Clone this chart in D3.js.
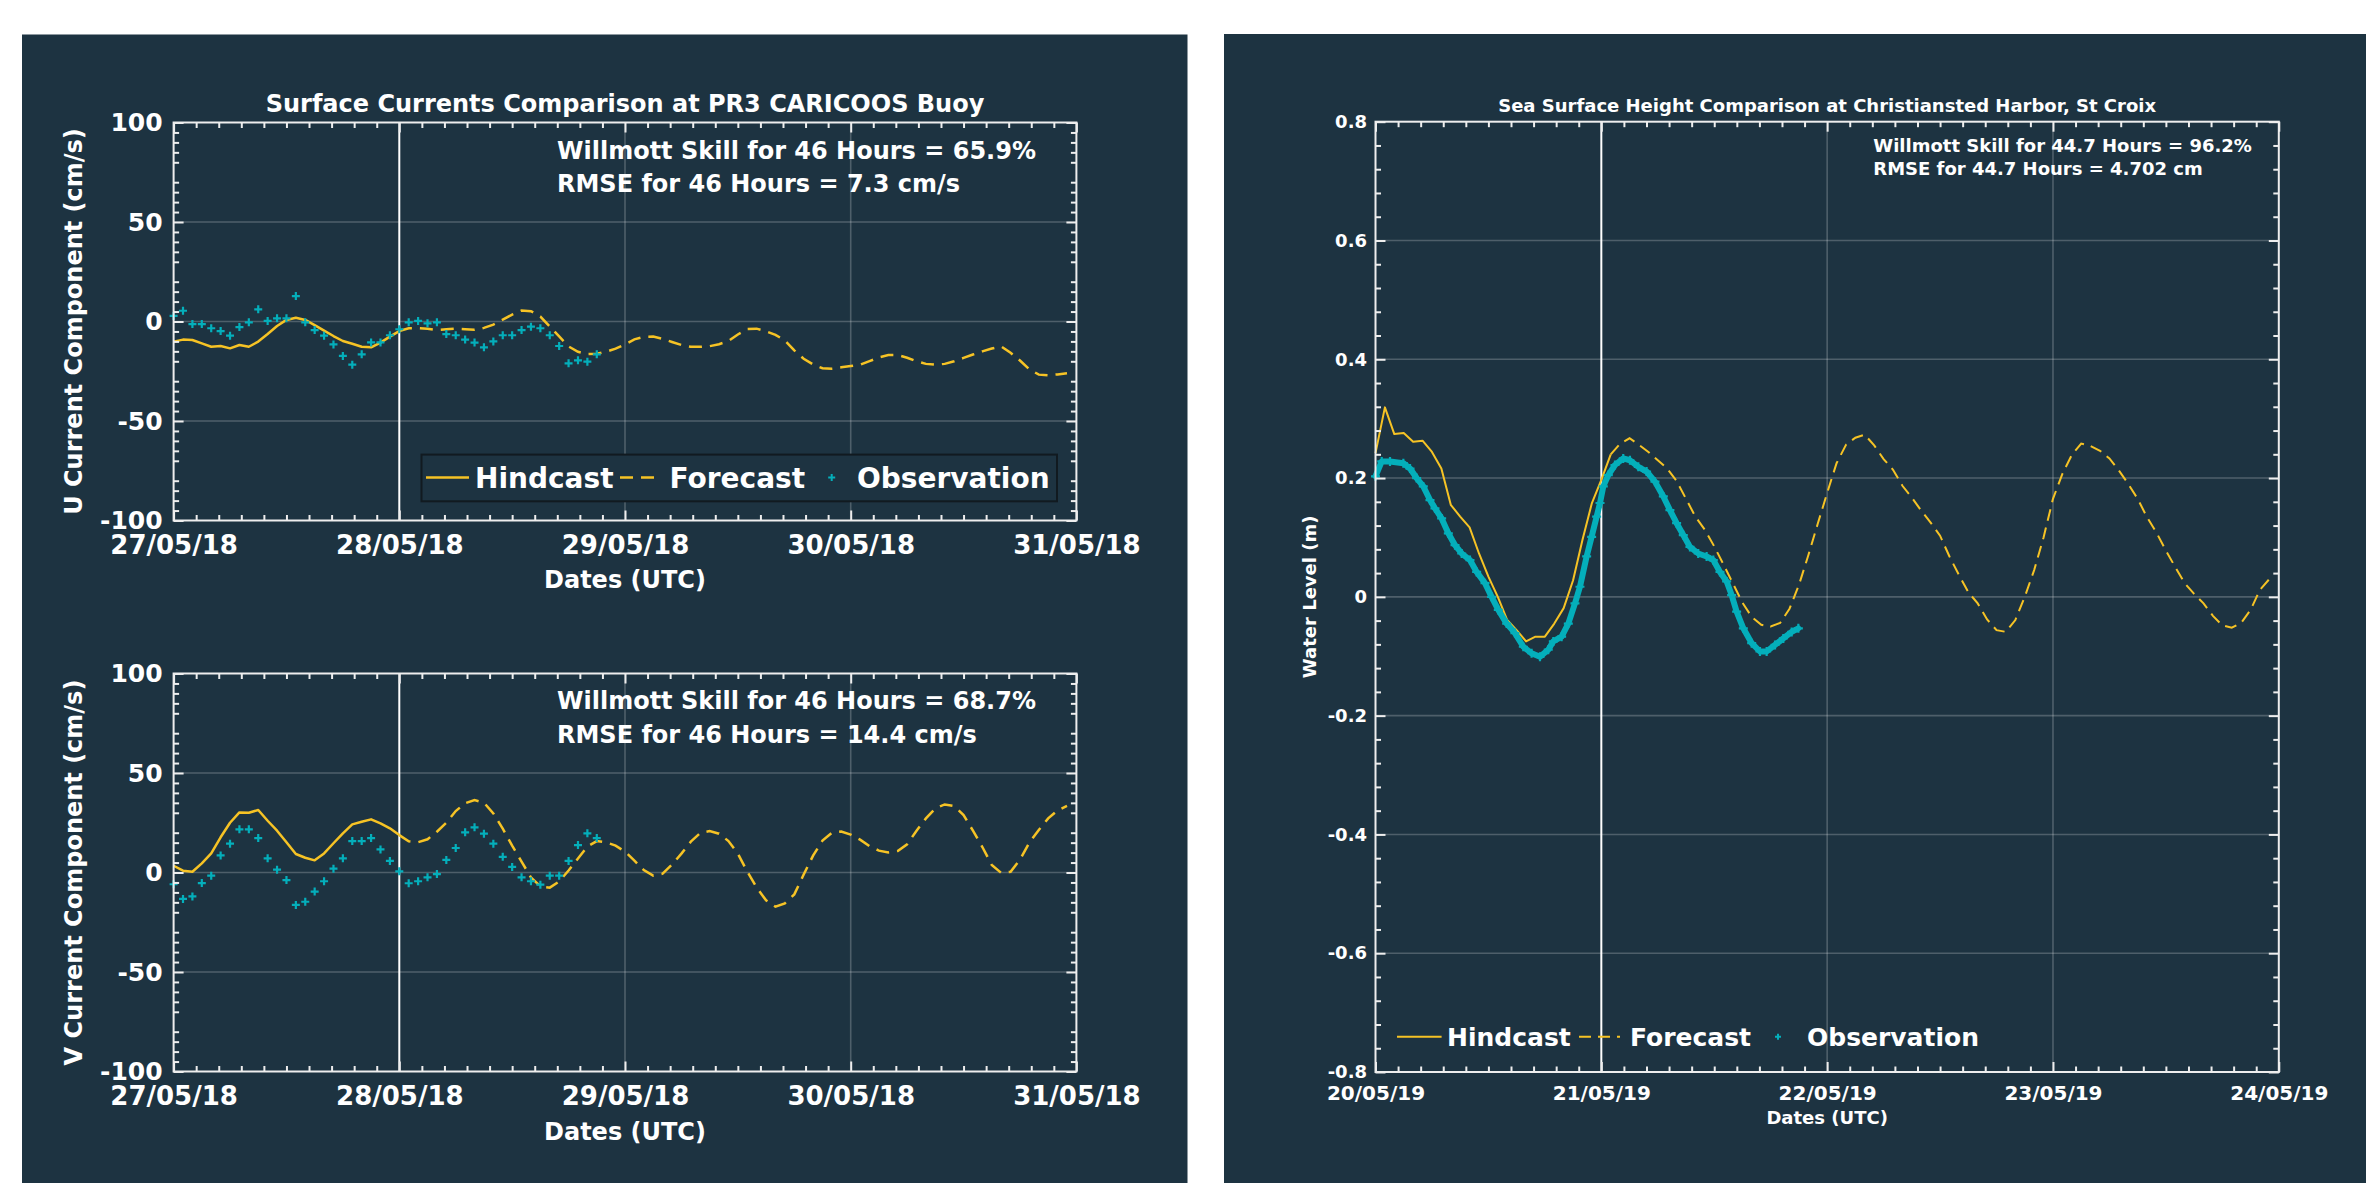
<!DOCTYPE html>
<html>
<head>
<meta charset="utf-8">
<script src="https://d3js.org/d3.v7.min.js"></script>
<style>
  html, body { margin: 0; padding: 0; background: #fff; }
  svg { display: block; }
</style>
</head>
<body>
<script>
// colours
const BG = "#1d3341", AXIS = "#eeeeee", GRID = "rgba(255,255,255,0.22)";
const HIND = "#f6c325", OBS = "#04afbb";
const FONT = "'DejaVu Sans', Verdana, sans-serif";

// ---- PR3 CARICOOS buoy, hourly from 27/05/18 00 UTC
const uObs = [2.8, 5.4, -1.3, -1.3, -3.4, -4.8, -7.1, -2.8, -0.4, 6.1, 0.3, 1.6, 1.6, 12.8, -0.4, -4.3,
  -7.1, -11.5, -17.3, -21.7, -16.5, -10.5, -10.5, -6.9, -3.9, -0.4, 0.3, -0.9, -0.4, -6.3, -6.9, -9.1,
  -10.6, -13.0, -10.0, -6.9, -6.9, -4.3, -2.6, -3.4, -6.9, -12.3, -21.0, -19.5, -20.2, -16.5];
const uHindcast = [-10.1, -9.1, -9.3, -11.0, -12.7, -12.3, -13.5, -11.8, -12.7, -10.1, -6.3, -2.3, 0.8,
  1.9, 0.8, -1.8, -4.6, -7.3, -9.8, -11.2, -12.7, -13.0, -10.6, -7.6, -4.8];
// forecast starts at hour 24
const uForecast = [-4.8, -3.4, -3.3, -3.6, -4.3, -3.9, -3.6, -3.9, -4.2, -3.2, -1.6, 0.9, 3.5, 5.5, 5.2,
  2.5, -2.5, -7.5, -12.5, -15.2, -16.4, -16.2, -15.2, -13.6, -11.5, -9.0, -7.7, -7.6, -8.7, -10.3, -11.8,
  -12.7, -12.7, -12.4, -11.4, -9.8, -6.5, -3.8, -3.6, -4.9, -6.7, -9.5, -14.5, -18.7, -21.6, -23.5, -23.7,
  -23.0, -22.4, -21.7, -19.9, -18.1, -16.8, -16.8, -18.2, -20.0, -21.3, -21.7, -21.3, -20.0, -18.3, -16.6,
  -15.0, -13.6, -12.5, -15.7, -19.6, -24.0, -26.7, -27.0, -26.6, -26.0];

const vObs = [-5.9, -13.3, -12.0, -5.3, -1.6, 8.6, 14.5, 21.7, 21.7, 17.3, 7.1, 1.4, -3.8, -16.3, -14.7,
  -9.6, -4.4, 1.9, 7.1, 15.8, 15.8, 17.3, 11.6, 5.8, 0.6, -5.4, -4.4, -2.4, -0.8, 6.3, 12.3, 20.2, 22.7,
  19.5, 14.5, 7.9, 2.8, -2.4, -4.4, -6.1, -1.6, -1.6, 5.8, 13.8, 19.7, 17.3];
const vHindcast = [3.4, 0.9, 0.4, 4.6, 9.6, 17.7, 25.0, 30.2, 30.0, 31.4, 26.0, 21.0, 15.2, 9.3, 7.4, 6.1,
  9.6, 14.7, 19.7, 24.2, 25.5, 26.7, 24.7, 22.2, 18.8];
const vForecast = [18.8, 15.7, 15.2, 16.7, 20.5, 25.0, 30.9, 34.8, 36.4, 35.1, 29.7, 22.0, 13.5, 5.5, -2.5,
  -7.0, -7.6, -4.5, 1.0, 7.0, 13.0, 15.8, 15.2, 13.5, 10.5, 6.0, 1.2, -1.6, -0.6, 4.0, 9.5, 15.5, 19.8,
  20.8, 19.5, 15.8, 9.5, 0.5, -7.5, -14.0, -17.2, -15.5, -11.0, -1.0, 8.5, 16.0, 20.0, 20.6, 19.0, 16.5,
  13.2, 11.0, 10.1, 10.8, 14.2, 21.0, 27.2, 32.2, 34.2, 33.4, 28.9, 21.0, 12.8, 3.8, -0.2, 0.4, 6.5, 15.0,
  21.4, 27.2, 31.2, 33.5];

// ---- Christiansted Harbor, hourly from 20/05/19 00 UTC
const sshHindcast = [0.242, 0.319, 0.274, 0.276, 0.261, 0.263, 0.244, 0.216, 0.155, 0.135, 0.117, 0.073,
  0.034, 0.000, -0.039, -0.056, -0.075, -0.067, -0.067, -0.045, -0.019, 0.028, 0.096, 0.158, 0.197, 0.24];
// forecast starts at hour 25
const sshForecast = [0.24, 0.258, 0.267, 0.256, 0.244, 0.23, 0.216, 0.195, 0.165, 0.135, 0.113, 0.085,
  0.054, 0.022, -0.01, -0.034, -0.047, -0.05, -0.044, -0.02, 0.02, 0.07, 0.123, 0.175, 0.225, 0.256, 0.268,
  0.273, 0.255, 0.232, 0.214, 0.187, 0.167, 0.145, 0.125, 0.103, 0.068, 0.037, 0.008, -0.011, -0.038,
  -0.056, -0.059, -0.039, 0.0, 0.045, 0.1, 0.165, 0.207, 0.239, 0.258, 0.254, 0.246, 0.233, 0.213, 0.19,
  0.165, 0.134, 0.108, 0.078, 0.05, 0.023, 0.005, -0.011, -0.032, -0.048, -0.052, -0.044, -0.022, 0.012, 0.03];
const sshObsHours = [0.0, 0.66, 1.54, 2.96, 3.67, 4.37, 5.08, 5.79, 6.32, 7.03, 7.74, 8.45, 9.16, 10.04,
  10.75, 11.64, 12.34, 13.05, 13.94, 14.82, 15.71, 16.59, 17.48, 18.36, 18.9, 19.78, 20.49, 21.2, 21.73,
  22.44, 22.97, 23.5, 23.86, 24.21, 24.74, 25.45, 26.33, 27.04, 27.93, 28.81, 29.7, 30.59, 31.29, 32.0,
  32.71, 33.42, 34.3, 35.19, 35.9, 36.61, 37.32, 37.85, 38.38, 39.09, 39.98, 40.86, 41.57, 42.46, 43.34,
  44.23, 44.94];
const sshObs = [0.203, 0.228, 0.228, 0.225, 0.216, 0.200, 0.186, 0.163, 0.149, 0.132, 0.107, 0.087, 0.073,
  0.062, 0.042, 0.023, 0.000, -0.022, -0.045, -0.061, -0.084, -0.095, -0.101, -0.089, -0.075, -0.067,
  -0.045, -0.011, 0.017, 0.068, 0.101, 0.135, 0.158, 0.186, 0.205, 0.222, 0.233, 0.230, 0.219, 0.211,
  0.194, 0.169, 0.146, 0.124, 0.104, 0.084, 0.073, 0.068, 0.062, 0.042, 0.026, 0.003, -0.025, -0.053,
  -0.078, -0.092, -0.092, -0.081, -0.070, -0.059, -0.053];

const legendLabels = ["Hindcast", "Forecast", "Observation"];
const currentTicks = [-100, -50, 0, 50, 100];
const currentGrid = [-50, 0, 50];
const levelTicks = [-0.8, -0.6, -0.4, -0.2, 0, 0.2, 0.4, 0.6, 0.8];
const levelGrid = [-0.6, -0.4, -0.2, 0, 0.2, 0.4, 0.6];

const svg = d3.select("body").append("svg").attr("width", 2366).attr("height", 1183);
svg.append("rect").attr("width", 2366).attr("height", 1183).attr("fill", "#fff");
svg.append("rect").attr("x", 22).attr("y", 34.5).attr("width", 1165.5).attr("height", 1149).attr("fill", BG);
svg.append("rect").attr("x", 1224).attr("y", 34).attr("width", 1142).attr("height", 1149).attr("fill", BG);

const plus = s => `M${-s},0H${s}M0,${-s}V${s}`;
const hourly = (start, offset, vals) => vals.map((v, i) => ({ t: new Date(+start + (offset + i) * 36e5), v }));

function drawPanel(c) {
  const g = svg.append("g");
  const end = d3.utcDay.offset(c.start, 4);
  const x = d3.scaleUtc().domain([c.start, end]).range([c.x0, c.x1]);
  const y = d3.scaleLinear().domain(c.yDomain).range([c.y1, c.y0]);
  const at = h => new Date(+c.start + h * 36e5);
  const days = d3.utcDay.range(c.start, d3.utcDay.offset(end, 1));

  // stats text (grid is drawn over it, as in the original)
  g.selectAll(".stat").data(c.stats).join("text")
    .attr("x", c.statsX).attr("y", (d, i) => c.statsY[i])
    .attr("fill", "#fff").attr("font-family", FONT).attr("font-weight", "bold")
    .attr("font-size", c.statsSize).text(d => d);

  // grid
  g.selectAll(".hg").data(c.yGrid).join("line")
    .attr("x1", c.x0).attr("x2", c.x1).attr("y1", d => y(d)).attr("y2", d => y(d))
    .attr("stroke", GRID).attr("stroke-width", 1.6);
  g.selectAll(".vg").data(days.slice(2, 4)).join("line")
    .attr("x1", d => x(d)).attr("x2", d => x(d)).attr("y1", c.y0).attr("y2", c.y1)
    .attr("stroke", GRID).attr("stroke-width", 1.6);
  // start of forecast
  g.append("line").attr("x1", x(days[1])).attr("x2", x(days[1])).attr("y1", c.y0).attr("y2", c.y1)
    .attr("stroke", "#fff").attr("stroke-width", 2);

  const line = d3.line().x(d => x(d.t)).y(d => y(d.v));
  g.append("path").datum(c.hindcast).attr("d", line).attr("fill", "none")
    .attr("stroke", HIND).attr("stroke-width", c.lw).attr("stroke-linejoin", "round");
  g.append("path").datum(c.forecast).attr("d", line).attr("fill", "none")
    .attr("stroke", HIND).attr("stroke-width", c.lw).attr("stroke-dasharray", c.dash);

  if (c.band) {
    g.append("path").datum(c.obs).attr("d", line).attr("fill", "none")
      .attr("stroke", OBS).attr("stroke-width", c.band).attr("stroke-linejoin", "round")
      .attr("stroke-linecap", "round");
  }
  g.selectAll(".obs").data(c.obs).join("path")
    .attr("transform", d => `translate(${x(d.t)},${y(d.v)})`)
    .attr("d", plus(c.mark)).attr("stroke", OBS).attr("stroke-width", 2.2);

  // box
  g.append("rect").attr("x", c.x0).attr("y", c.y0).attr("width", c.x1 - c.x0).attr("height", c.y1 - c.y0)
    .attr("fill", "none").attr("stroke", AXIS).attr("stroke-width", 2);

  // ticks, all pointing inwards
  const xMinor = d3.range(0, 41).filter(i => i % 10 !== 0).map(i => at(i * 2.4));
  const yMinor = d3.range(0, 41).filter(i => i % 5 !== 0)
    .map(i => c.yDomain[0] + i * (c.yDomain[1] - c.yDomain[0]) / 40);
  function axis(gen, scale, vals, len, tx, ty, fmt, size, pad) {
    const a = gen(scale).tickValues(vals).tickSize(-len).tickPadding(pad || 0)
      .tickFormat(fmt || (() => ""));
    const s = g.append("g").attr("transform", `translate(${tx},${ty})`).call(a)
      .attr("color", AXIS).attr("font-family", FONT).attr("font-weight", "bold").attr("font-size", size || 10);
    s.select(".domain").remove();
    s.selectAll("line").attr("stroke-width", 2);
    s.selectAll("text").attr("fill", "#fff");
  }
  axis(d3.axisBottom, x, days, 10, 0, c.y1, d3.utcFormat("%d/%m/%y"), c.xTickSize, c.xPad);
  axis(d3.axisBottom, x, xMinor, 5.5, 0, c.y1);
  axis(d3.axisTop, x, days, 10, 0, c.y0);
  axis(d3.axisTop, x, xMinor, 5.5, 0, c.y0);
  axis(d3.axisLeft, y, c.yTicks, 10, c.x0, 0, d => String(d), c.yTickSize, c.yPad);
  axis(d3.axisLeft, y, yMinor, 5.5, c.x0, 0);
  axis(d3.axisRight, y, c.yTicks, 10, c.x1, 0);
  axis(d3.axisRight, y, yMinor, 5.5, c.x1, 0);

  const txt = (s, px, py, size, anchor) => g.append("text").attr("x", px).attr("y", py)
    .attr("fill", "#fff").attr("font-family", FONT).attr("font-weight", "bold")
    .attr("font-size", size).attr("text-anchor", anchor || "middle").text(s);
  const cx = (c.x0 + c.x1) / 2;
  if (c.title) txt(c.title, cx, c.titleY, c.titleSize);
  txt("Dates (UTC)", cx, c.xLabelY, c.xLabelSize);
  txt(c.yLabel, 0, 0, c.yLabelSize)
    .attr("transform", `translate(${c.yLabelX},${(c.y0 + c.y1) / 2}) rotate(-90)`);

  const L = c.legend;
  if (L) {
    const lg = g.append("g");
    if (L.box) {
      lg.append("rect").attr("x", L.box[0]).attr("y", L.box[1])
        .attr("width", L.box[2] - L.box[0]).attr("height", L.box[3] - L.box[1])
        .attr("fill", BG).attr("stroke", "#111a20").attr("stroke-width", 2);
    }
    lg.append("line").attr("x1", L.solid[0]).attr("x2", L.solid[1]).attr("y1", L.cy).attr("y2", L.cy)
      .attr("stroke", HIND).attr("stroke-width", c.lw);
    lg.append("line").attr("x1", L.dash[0]).attr("x2", L.dash[1]).attr("y1", L.cy).attr("y2", L.cy)
      .attr("stroke", HIND).attr("stroke-width", c.lw).attr("stroke-dasharray", c.dash);
    lg.append("path").attr("transform", `translate(${L.mark},${L.cy})`).attr("d", plus(L.markSize))
      .attr("stroke", OBS).attr("stroke-width", 2);
    legendLabels.forEach((s, i) => txt(s, L.tx[i], L.cy + 0.36 * L.size, L.size, "start"));
  }
}

const d1 = new Date(Date.UTC(2018, 4, 27));
const d2 = new Date(Date.UTC(2019, 4, 20));

const leftCommon = {
  start: d1, x0: 173.6, x1: 1076.4, yDomain: [-100, 100], yTicks: currentTicks, yGrid: currentGrid,
  statsX: 557, statsSize: 24, xTickSize: 26, xPad: 15.5, yTickSize: 25, yPad: 11,
  xLabelSize: 24, yLabelSize: 24, yLabelX: 82, lw: 2.5, dash: "13,8", mark: 4
};

drawPanel(Object.assign({}, leftCommon, {
  y0: 122.5, y1: 520.5,
  hindcast: hourly(d1, 0, uHindcast), forecast: hourly(d1, 24, uForecast), obs: hourly(d1, 0, uObs),
  stats: ["Willmott Skill for 46 Hours = 65.9%", "RMSE for 46 Hours = 7.3 cm/s"],
  statsY: [158.5, 191.8],
  title: "Surface Currents Comparison at PR3 CARICOOS Buoy", titleY: 111.7, titleSize: 24,
  xLabelY: 587.5, yLabel: "U Current Component (cm/s)",
  legend: { box: [421.5, 454.6, 1057, 501.3], cy: 477.6, size: 28, solid: [426, 469], dash: [620, 658],
    mark: 831.7, markSize: 3.5, tx: [475, 669.5, 857] }
}));

drawPanel(Object.assign({}, leftCommon, {
  y0: 673.5, y1: 1071.5,
  hindcast: hourly(d1, 0, vHindcast), forecast: hourly(d1, 24, vForecast), obs: hourly(d1, 0, vObs),
  stats: ["Willmott Skill for 46 Hours = 68.7%", "RMSE for 46 Hours = 14.4 cm/s"],
  statsY: [709.3, 742.6],
  xLabelY: 1140, yLabel: "V Current Component (cm/s)"
}));

drawPanel({
  start: d2, x0: 1375.5, x1: 2278.8, y0: 121.7, y1: 1072, yDomain: [-0.8, 0.8],
  yTicks: levelTicks, yGrid: levelGrid,
  hindcast: hourly(d2, 0, sshHindcast), forecast: hourly(d2, 25, sshForecast),
  obs: sshObsHours.map((h, i) => ({ t: new Date(+d2 + h * 36e5), v: sshObs[i] })),
  band: 6, mark: 4.5, lw: 2, dash: "12,7",
  stats: ["Willmott Skill for 44.7 Hours = 96.2%", "RMSE for 44.7 Hours = 4.702 cm"],
  statsX: 1873.3, statsY: [151.7, 175], statsSize: 18,
  title: "Sea Surface Height Comparison at Christiansted Harbor, St Croix", titleY: 111.7, titleSize: 18,
  xTickSize: 20, xPad: 13.8, yTickSize: 18, yPad: 8.5,
  xLabelY: 1124, xLabelSize: 18, yLabel: "Water Level (m)", yLabelSize: 18, yLabelX: 1315.6,
  legend: { cy: 1036.8, size: 25, solid: [1397, 1441.6], dash: [1579, 1620], mark: 1778, markSize: 3,
    tx: [1447, 1630, 1807] }
});
</script>
</body>
</html>
